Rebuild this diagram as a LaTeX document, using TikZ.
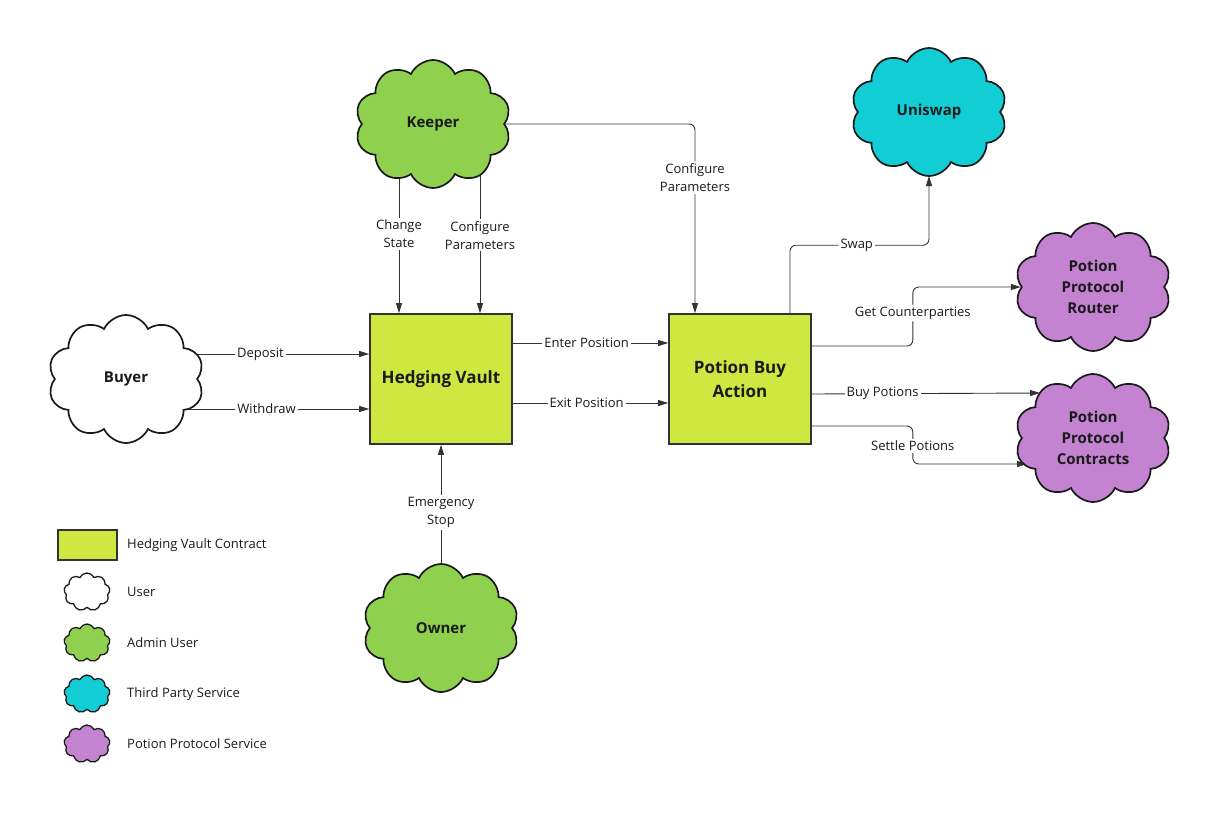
\documentclass[tikz,border=0pt]{standalone}
\usepackage{fontspec}
\setmainfont{Open Sans}
\usetikzlibrary{shapes.symbols,arrows.meta,calc}
\pgfdeclarelayer{bg}
\pgfsetlayers{bg,main}
\definecolor{lime}{HTML}{CEE741}
\definecolor{cgreen}{HTML}{8FD14F}
\definecolor{ccyan}{HTML}{12CDD4}
\definecolor{cpurple}{HTML}{C383D1}
\definecolor{ink}{HTML}{1A1A1A}
\definecolor{edge}{HTML}{333333}
\tikzset{
  cloudbox/.style={cloud, cloud puffs=10, cloud puff arc=130, draw=ink, line width=1.7pt,
    inner sep=0pt, align=center, text=ink, font=\fontsize{15}{21}\selectfont\bfseries},
  bigcloud/.style={cloudbox, minimum width=156pt, minimum height=128pt},
  smallcloud/.style={cloudbox, cloud puffs=9, line width=1.3pt, minimum width=46pt, minimum height=38pt},
  contract/.style={rectangle, draw=edge, line width=1.6pt, fill=lime, align=center, text=ink,
    font=\fontsize{17}{24}\selectfont\bfseries, minimum width=142pt, minimum height=130pt, inner sep=0pt},
  arr/.style={draw=edge, line width=0.9pt, -{Triangle[length=10pt,width=6pt]}},
  rc/.style={rounded corners=6pt},
  lbl/.style={fill=white, text=ink, font=\fontsize{13}{18}\selectfont, inner sep=2pt, align=center},
  leg/.style={anchor=west, text=ink, font=\fontsize{13}{15}\selectfont, inner sep=0pt}
}
\begin{document}
\begin{tikzpicture}[x=1pt,y=-1pt]
\useasboundingbox (0,0) rectangle (1219,820);
% nodes
\node[bigcloud, fill=cgreen] (keeper) at (433,124) {Keeper};
\node[bigcloud, fill=ccyan] (uni) at (929,112) {Uniswap};
\node[bigcloud, fill=cpurple] (ppr) at (1093,287) {Potion\\Protocol\\Router};
\node[bigcloud, fill=cpurple] (ppc) at (1093,438) {Potion\\Protocol\\Contracts};
\node[bigcloud, fill=white] (buyer) at (126,379) {Buyer};
\node[bigcloud, fill=cgreen] (owner) at (441,628) {Owner};
\node[contract] (hv) at (441,379) {Hedging Vault};
\node[contract] (pba) at (740,379) {Potion Buy\\Action};
% helper coordinates
\coordinate (csx) at ($(hv.north)+(-42,0)$);
\coordinate (cpx) at ($(hv.north)+(39,0)$);
\coordinate (pbx) at ($(pba.north)+(-45,0)$);
\coordinate (swx) at ($(pba.north)+(50,0)$);
\coordinate (gcs) at ($(pba.east)+(0,-33)$);
\coordinate (bps) at ($(pba.east)+(0,15)$);
\coordinate (sps) at ($(pba.east)+(0,47)$);
\coordinate (bpt) at ($(ppc.center)+(-53,-45)$);
\coordinate (spt) at ($(ppc.center)+(-66,26)$);
\coordinate (unt) at ($(uni.center)+(0,64)$);
% connectors
\begin{pgfonlayer}{bg}
\draw[arr] ($(buyer.center)+(0,-25)$) -- node[lbl,pos=0.553]{Deposit} ($(hv.west)+(0,-25)$);
\draw[arr] ($(buyer.center)+(0,30)$) -- node[lbl,pos=0.578]{Withdraw} ($(hv.west)+(0,30)$);
\draw[arr] (keeper.center -| csx) -- node[lbl,pos=0.579]{Change\\State} (csx);
\draw[arr] (keeper.center -| cpx) -- node[lbl,pos=0.589]{Configure\\Parameters} (cpx);
\draw[arr,rc] (keeper.center) -| node[lbl,pos=0.642]{Configure\\Parameters} (pbx);
\draw[arr] ($(hv.east)+(0,-36)$) -- node[lbl,pos=0.475]{Enter Position} ($(pba.west)+(0,-36)$);
\draw[arr] ($(hv.east)+(0,24)$) -- node[lbl,pos=0.475]{Exit Position} ($(pba.west)+(0,24)$);
\draw[arr] (owner.center) -- node[lbl,pos=0.63]{Emergency\\Stop} (hv.south);
\draw[arr,rc] (swx) -- ++(0,-68) -| node[lbl,pos=0.24]{Swap} (unt);
\draw[arr,rc] (gcs) -- ++(101,0) |- node[lbl,pos=0.28]{Get Counterparties} (ppr.west);
\draw[arr] (bps) -- node[lbl,pos=0.31]{Buy Potions} (bpt);
\draw[arr,rc] (sps) -- ++(101,0) |- node[lbl,pos=0.26]{Settle Potions} (spt);
\end{pgfonlayer}
% legend
\node[rectangle, draw=edge, line width=1.6pt, fill=lime, minimum width=59pt, minimum height=30pt, inner sep=0pt] (lg1) at (87.5,545) {};
\node[smallcloud, fill=white] (lg2) at (87,592) {};
\node[smallcloud, fill=cgreen] (lg3) at (87,643) {};
\node[smallcloud, fill=ccyan] (lg4) at (87,694) {};
\node[smallcloud, fill=cpurple] (lg5) at (87,744) {};
\node[leg] (lt1) at (127,545) {Hedging Vault Contract};
\node[leg] (lt2) at (127,592) {User};
\node[leg] (lt3) at (127,643) {Admin User};
\node[leg] (lt4) at (127,694) {Third Party Service};
\node[leg] (lt5) at (127,744) {Potion Protocol Service};
\end{tikzpicture}
\end{document}
